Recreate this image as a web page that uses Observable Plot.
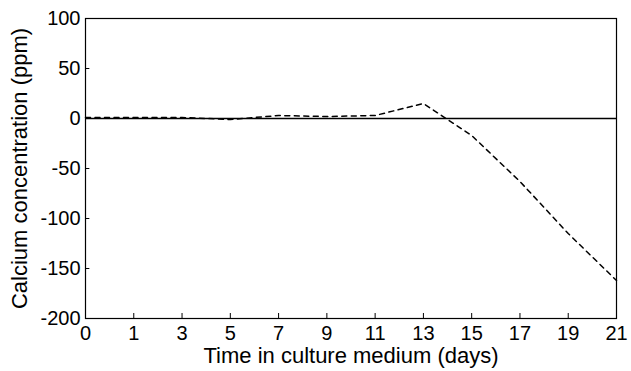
<!DOCTYPE html>
<html>
<head>
<meta charset="utf-8">
<script src="https://cdn.jsdelivr.net/npm/d3@7"></script>
<script src="https://cdn.jsdelivr.net/npm/@observablehq/plot@0.6"></script>
<style>
  body { margin: 0; background: #fff; }
  svg { font-family: "Liberation Sans", Arial, sans-serif; }
</style>
</head>
<body>
<div id="chart"></div>
<script>
const days = ["0", "1", "3", "5", "7", "9", "11", "13", "15", "17", "19", "21"];
const calcium = [1, 1, 1, -1, 3, 2, 3, 15, -17, -63, -115, -162];
const yTicks = [100, 50, 0, -50, -100, -150, -200];
const xLabel = "Time in culture medium (days)";
const yLabel = "Calcium concentration (ppm)";

const data = days.map((d, i) => ({i, day: d, value: calcium[i]}));
const idx = days.map((d, i) => i);

const chart = Plot.plot({
  width: 631,
  height: 371,
  marginLeft: 85,
  marginRight: 15,
  marginTop: 18,
  marginBottom: 53,
  style: {fontFamily: "'Liberation Sans', Arial, sans-serif", fontSize: "20px", color: "#000", background: "#fff", overflow: "visible"},
  x: {domain: [0, days.length - 1]},
  y: {domain: [-200, 100]},
  marks: [
    Plot.frame({stroke: "#000", strokeWidth: 1.2}),
    Plot.ruleY([0], {stroke: "#000", strokeWidth: 1.3}),
    Plot.ruleX(idx, {x: d => d, y1: -200, y2: -195, stroke: "#000"}),
    Plot.ruleY(yTicks, {y: d => d, x1: 0, x2: 0.09, stroke: "#000"}),
    Plot.line(data, {x: "i", y: "value", stroke: "#000", strokeWidth: 1.5, strokeDasharray: "5,4.5"}),
    Plot.axisX(idx, {anchor: "bottom", tickSize: 0, tickPadding: 7, tickFormat: i => days[i], fontSize: 20, label: null}),
    Plot.axisY(yTicks, {anchor: "left", tickSize: 0, tickPadding: 5, tickFormat: d => String(d), fontSize: 20, label: null}),
    Plot.text([xLabel], {frameAnchor: "bottom", dy: 44, fontSize: 22, fill: "#000", textAnchor: "middle"}),
    Plot.text([yLabel], {frameAnchor: "left", dx: -66, rotate: -90, fontSize: 22, fill: "#000", textAnchor: "middle"})
  ]
});
document.getElementById("chart").appendChild(chart);
</script>
</body>
</html>
